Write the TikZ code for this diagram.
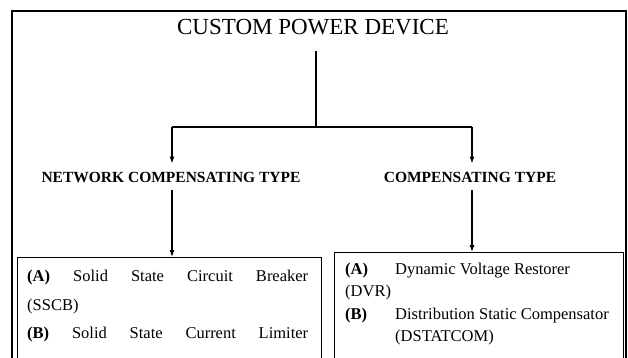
\documentclass[tikz,border=0pt]{standalone}
\usepackage{fontspec}
\setmainfont{Liberation Serif}
\usetikzlibrary{arrows.meta}

\tikzset{
  frame/.style={line width=1.6pt},
  conn/.style={line width=1.1pt},
  arr/.style={conn,-{Latex[length=7pt,width=5pt]}},
  head/.style={font=\bfseries\fontsize{15.5}{18}\selectfont, inner xsep=0pt, inner ysep=8pt},
  listbox/.style={draw, line width=1.4pt, anchor=north west, inner sep=0pt, minimum height=160pt},
  item/.style={anchor=base west, inner sep=0pt, font=\fontsize{16.5}{20}\selectfont},
}

\begin{document}
\begin{tikzpicture}[x=1pt,y=-1pt]
\useasboundingbox (0,0) rectangle (628,358);
\clip (0,0) rectangle (628,358);

% Outer frame
\draw[frame] (12,11) rectangle (626,420);

% Title
\node[font=\fontsize{23}{27}\selectfont, anchor=base, inner ysep=15pt] (cpd) at (313,35) {CUSTOM POWER DEVICE};

% Split into the two types
\coordinate (split) at (316,127);
\coordinate (splitL) at (172,127);
\coordinate (splitR) at (472,127);
\draw[conn] (cpd.south -| split) -- (split);
\draw[conn] (splitL) -- (splitR);

% Type headings
\node[head, anchor=base] (nct) at (171,182) {NETWORK COMPENSATING TYPE};
\node[head, anchor=base] (ct) at (470,182) {COMPENSATING TYPE};
\draw[arr] (splitL) -- (splitL |- nct.north);
\draw[arr] (splitR) -- (splitR |- ct.north);

% Device boxes
\node[listbox, minimum width=304pt] (ncbox) at (17,257) {};
\node[listbox, minimum width=289pt] (cbox) at (334,252) {};
\draw[arr] (splitL |- nct.south) -- (splitL |- ncbox.north);
\draw[arr] (splitR |- ct.south) -- (splitR |- cbox.north);

% Network compensating devices
\node[item] (sscb) at (27,281) {\makebox[281pt][l]{\textbf{(A)}\hfill Solid\hfill State\hfill Circuit\hfill Breaker}};
\node[item] (sscbab) at (27,310) {(SSCB)};
\node[item] (sscl) at (27,338) {\makebox[281pt][l]{\textbf{(B)}\hfill Solid\hfill State\hfill Current\hfill Limiter}};

% Compensating devices
\node[item] (dvr) at (345,274) {\makebox[50pt][l]{\textbf{(A)}}Dynamic Voltage Restorer};
\node[item] (dvrab) at (345,296) {(DVR)};
\node[item] (dstat) at (345,319) {\makebox[50pt][l]{\textbf{(B)}}Distribution Static Compensator};
\node[item] (dstatab) at (395,341) {(DSTATCOM)};
\end{tikzpicture}
\end{document}
